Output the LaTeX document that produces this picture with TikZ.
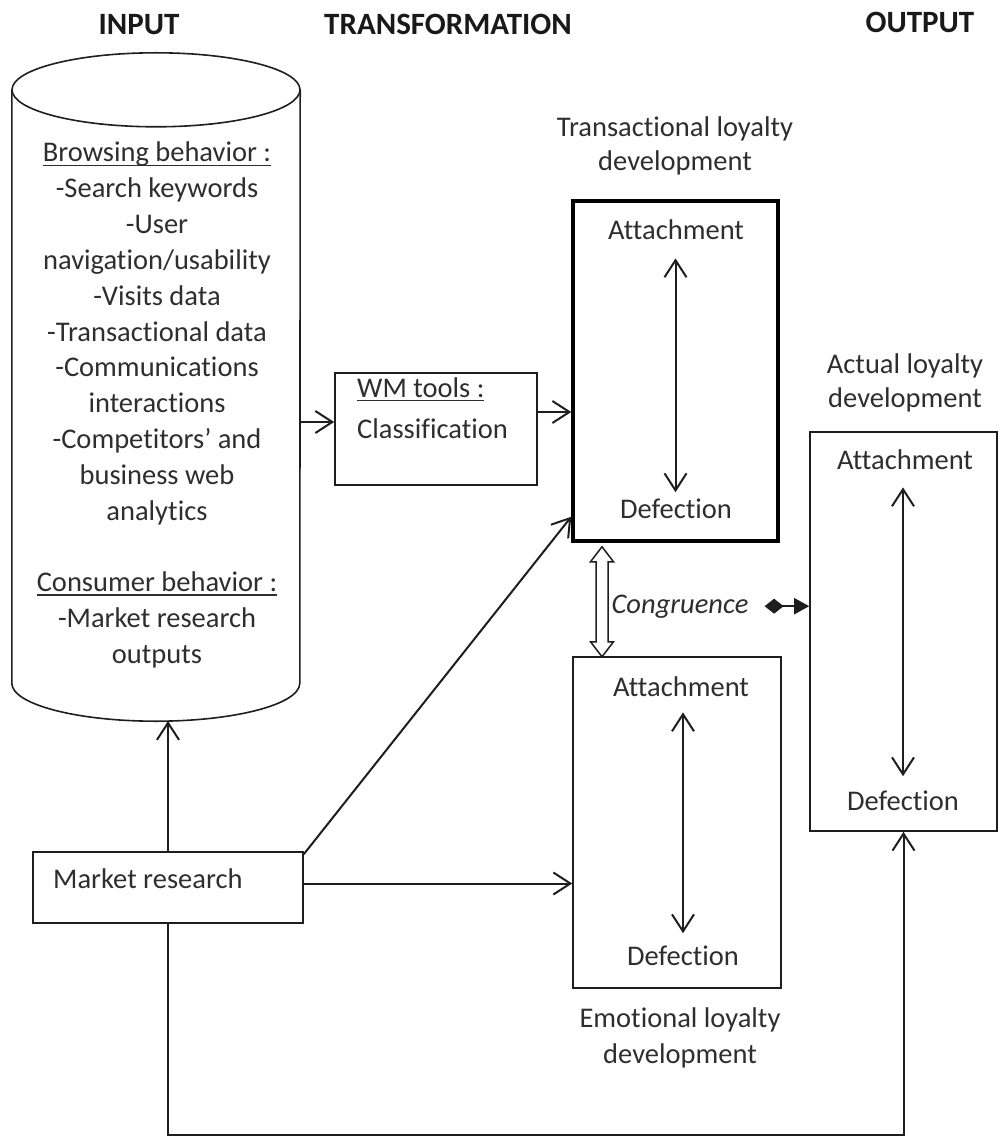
\documentclass[tikz,border=0pt]{standalone}
\usepackage{fontspec}
\setmainfont{Carlito}[Ligatures={NoCommon}]
\usetikzlibrary{arrows.meta,calc}
\definecolor{ink}{HTML}{2E2E2E}
\definecolor{linec}{HTML}{1E1E1E}
% underline drawn a little below the baseline, through the descenders
\newcommand\ulbox[1]{\setbox0=\hbox{#1}\rlap{\rule[-4pt]{\wd0}{1.4pt}}\box0}
\tikzset{barb/.tip={Straight Barb[length=17pt,width=22pt,line width=2pt]}}
\begin{document}
\begin{tikzpicture}[x=1pt,y=-1pt,
  txt/.style={font=\fontsize{28.5}{35.8}\selectfont, text=ink, inner sep=0pt, anchor=base},
  head/.style={font=\fontsize{31}{36}\selectfont\bfseries, text=black!90, inner sep=0pt, anchor=base},
  box/.style={draw=linec, line width=1.6pt, inner sep=0pt},
  thickbox/.style={draw=black, line width=3.5pt, inner sep=0pt},
  arr/.style={draw=linec, line width=2pt, -{barb}},
  dblarr/.style={draw=linec, line width=2pt, {barb}-{barb}},
  link/.style={draw=linec, line width=2pt}]
\useasboundingbox (0,0) rectangle (999,1139);

% column headings
\node[head] (hin)  at (139,35) {INPUT};
\node[head] (htr)  at (448,35) {TRANSFORMATION};
\node[head] (hout) at (920,33) {OUTPUT};

% data store (cylinder)
\node[minimum width=288pt, minimum height=593pt, inner sep=0pt] (cyl) at (156,386.5) {};
\draw[link, line width=1.6pt] (cyl.north west) -- (cyl.south west)
  arc[start angle=180, end angle=360, x radius=144pt, y radius=38pt] -- (cyl.north east);
\draw[link, line width=1.6pt] (cyl.north) ellipse [x radius=144pt, y radius=37pt];
\coordinate (cylbot) at (156,721);
\foreach \t [count=\i from 0] in {{\ulbox{Browsing behavior :}}, -Search keywords, -User,
    navigation/usability, -Visits data, -Transactional data, -Communications,
    interactions, -Competitors’ and, business web, analytics, {},
    {\ulbox{Consumer behavior :}}, -Market research, outputs}
  \node[txt] (cyl-\i) at (157,{162+35.8*\i}) {\t};

% web mining box
\node[box, minimum width=202pt, minimum height=112pt] (wm) at (436,429) {};
\node[txt, anchor=base west] (wm-1) at (357,397) {\ulbox{WM tools :}};
\node[txt, anchor=base west] (wm-2) at (357,438) {Classification};

% transactional loyalty
\node[thickbox, minimum width=205pt, minimum height=340pt] (trans) at (675.5,371) {};
\node[txt] (trans-l1) at (675,137) {Transactional loyalty};
\node[txt] (trans-l2) at (675,171) {development};
\node[txt] (ta) at (676,240) {Attachment};
\node[txt] (td) at (676,518) {Defection};
\draw[dblarr] ([yshift=-18pt]ta.south -| trans.center) -- ([yshift=6pt]td.north -| trans.center);

% emotional loyalty
\node[box, minimum width=208pt, minimum height=331pt] (emo) at (677,822.5) {};
\node[txt] (ea) at (681,696) {Attachment};
\node[txt] (ed) at (683,965) {Defection};
\node[txt] (emo-l1) at (680,1027) {Emotional loyalty};
\node[txt] (emo-l2) at (680,1063) {development};
\draw[dblarr] ([yshift=-16pt]ea.south -| ed.center) -- ([yshift=12pt]ed.north -| ed.center);

% actual loyalty
\node[box, minimum width=187pt, minimum height=399pt] (act) at (903.5,631.5) {};
\node[txt] (act-l1) at (905,373) {Actual loyalty};
\node[txt] (act-l2) at (905,407) {development};
\node[txt] (aa) at (905,469) {Attachment};
\node[txt] (ad) at (903,810) {Defection};
\draw[dblarr] ([yshift=-18pt]aa.south -| ad.center) -- ([yshift=14pt]ad.north -| ad.center);

% congruence between transactional and emotional loyalty
\coordinate (cgx) at (602,0);
\draw[link, line width=1.5pt] ([yshift=-4pt]trans.south -| cgx)
  -- ++(11.5,15) -- ++(-5.5,0) -- ++(0,80) -- ++(5.5,0) -- ++(-11.5,15)
  -- ++(-11.5,-15) -- ++(5.5,0) -- ++(0,-80) -- ++(-5.5,0) -- cycle;
\node[txt, font=\fontsize{28.5}{35.8}\selectfont\itshape] (cong) at (680,613) {Congruence};
\draw[link, {Diamond[length=19pt,width=15pt]}-{Triangle[length=15pt,width=16pt]}]
  ([xshift=16pt]cong.east) -- (act.west |- cong.east);

% market research
\node[box, minimum width=270pt, minimum height=71pt] (mr) at (168,887.5) {};
\node[txt, anchor=base west] (mr-t) at (53,888) {Market research};

% connectors
\coordinate (cylE) at (300,0);
\coordinate (wmin) at ([yshift=7pt]wm.west);
\draw[arr] (cylE |- wmin) -- (wmin);
\coordinate (wmout) at ([yshift=17pt]wm.east);
\draw[arr] (wmout) -- (trans.west |- wmout);
\draw[arr] (mr.north) -- (mr.north |- cylbot);
\draw[arr] ([yshift=-3pt]mr.north east) -- ([yshift=26pt]trans.south west);
\coordinate (mrout) at ([yshift=4pt]mr.east);
\draw[arr] (mrout) -- (emo.west |- mrout);
\coordinate (floor) at (0,1135);
\draw[arr] (mr.south) -- (mr.south |- floor) -| (act.south);
\end{tikzpicture}
\end{document}
